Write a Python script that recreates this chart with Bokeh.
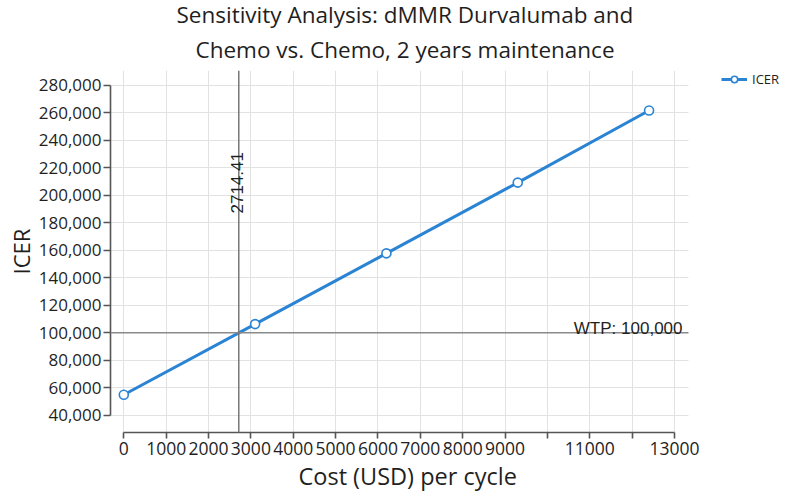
from math import pi

from bokeh.plotting import figure
from bokeh.models import (ColumnDataSource, FixedTicker, Span, Label, Legend,
                          LegendItem, Range1d, NumeralTickFormatter,
                          BoxAnnotation, Title)
from bokeh.embed import file_html
from bokeh.resources import INLINE

# ICER against the per-cycle drug cost
cost_per_cycle = [0, 3100, 6200, 9300, 12400]
icer = [54900, 106300, 157800, 209300, 261800]

# axis ticks
x_ticks = list(range(0, 13001, 1000))
x_hidden_labels = [10000, 12000]
y_ticks = list(range(40000, 280001, 20000))

# reference values
wtp = 100000
threshold_cost = 2714.41

title_lines = ["Sensitivity Analysis: dMMR Durvalumab and",
               "Chemo vs. Chemo, 2 years maintenance"]
x_title = "Cost (USD) per cycle"
y_title = "ICER"

BLUE = "#2B84D3"
AXIS = "#555555"
TEXT = "#1f1f1f"
FONT = "Open Sans"

# the plotted area ends at this cost; the strip to its right holds the legend
PLOT_END = 13330

src = ColumnDataSource(data=dict(cost=cost_per_cycle, icer=icer))

p = figure(width=787, height=494, output_backend="svg", toolbar_location=None,
           x_range=Range1d(-314, 15668), y_range=Range1d(27400, 290900),
           min_border_left=110, min_border_right=0,
           min_border_top=70, min_border_bottom=62,
           background_fill_color="white", border_fill_color="white")
p.outline_line_color = None
p.title.visible = False

# two-line heading, each line centred over the plotted area
for line, offset, standoff in ((title_lines[1], 85, 12),
                               (title_lines[0], 66, -8)):
    p.add_layout(Title(text=line, align="left", offset=offset,
                       standoff=standoff, text_font=FONT,
                       text_font_size="22.5px", text_font_style="normal",
                       text_color=TEXT), "above")

# x axis
xa = p.xaxis[0]
xa.ticker = FixedTicker(ticks=x_ticks)
xa.major_label_overrides = {t: "" for t in x_hidden_labels}
xa.bounds = (x_ticks[0], x_ticks[-1])
xa.major_tick_out = 6
xa.major_label_text_font_size = "17.5px"
xa.major_label_standoff = 3

# y axis
ya = p.yaxis[0]
ya.ticker = FixedTicker(ticks=y_ticks)
ya.formatter = NumeralTickFormatter(format="0,0")
ya.bounds = (y_ticks[0], y_ticks[-1])
ya.major_tick_out = 7
ya.major_label_text_font_size = "17px"
ya.major_label_standoff = 2
ya.axis_label = y_title
ya.axis_label_text_font = FONT
ya.axis_label_text_font_size = "22px"
ya.axis_label_text_font_style = "normal"
ya.axis_label_text_color = TEXT
ya.axis_label_standoff = 0

for ax in (xa, ya):
    ax.axis_line_color = AXIS
    ax.axis_line_width = 1.6
    ax.major_tick_line_color = AXIS
    ax.major_tick_line_width = 1.6
    ax.major_tick_in = 0
    ax.minor_tick_line_color = None
    ax.major_label_text_font = FONT
    ax.major_label_text_color = TEXT

# x-axis title, centred under the labelled part of the axis
p.add_layout(Title(text=x_title, align="left", offset=188, standoff=0,
                   text_font=FONT, text_font_size="23.5px",
                   text_font_style="normal", text_color=TEXT), "below")

p.xgrid.grid_line_color = "#e2e2e2"
p.ygrid.grid_line_color = "#e2e2e2"
p.xgrid.grid_line_width = 1
p.ygrid.grid_line_width = 1

# reference lines
p.add_layout(Span(location=wtp, dimension="width",
                  line_color="#8a8a8a", line_width=1.5))
p.add_layout(Span(location=threshold_cost, dimension="height",
                  line_color="#777777", line_width=1.5))

p.add_layout(Label(x=threshold_cost, y=186800, text=f"{threshold_cost:.2f}",
                   angle=pi / 2, text_align="left", text_baseline="alphabetic",
                   x_offset=-2, text_font="Liberation Sans",
                   text_font_size="17px", text_color=TEXT))
p.add_layout(Label(x=13189, y=wtp, text=f"WTP: {wtp:,}",
                   text_align="right", text_baseline="alphabetic",
                   y_offset=4, text_font="Liberation Sans",
                   text_font_size="17px", text_color=TEXT))

# ICER series
r_line = p.line(x="cost", y="icer", source=src, line_color=BLUE, line_width=3)
r_pts = p.scatter(x="cost", y="icer", source=src, marker="circle", size=9,
                  fill_color="white", line_color=BLUE, line_width=1.6)

# blank strip right of the plotted area, behind the legend
p.add_layout(BoxAnnotation(left=PLOT_END, fill_color="white", fill_alpha=1,
                           line_color=None))

legend = Legend(items=[LegendItem(label="ICER", renderers=[r_line, r_pts])],
                location=(611, 344), orientation="vertical",
                border_line_alpha=0, background_fill_alpha=0,
                label_text_font=FONT, label_text_font_size="13px",
                label_text_color=TEXT, glyph_width=26, glyph_height=16,
                label_height=16, label_standoff=5,
                padding=0, margin=0, spacing=0)
p.add_layout(legend)

open("out.html", "w").write(file_html(p, INLINE))
